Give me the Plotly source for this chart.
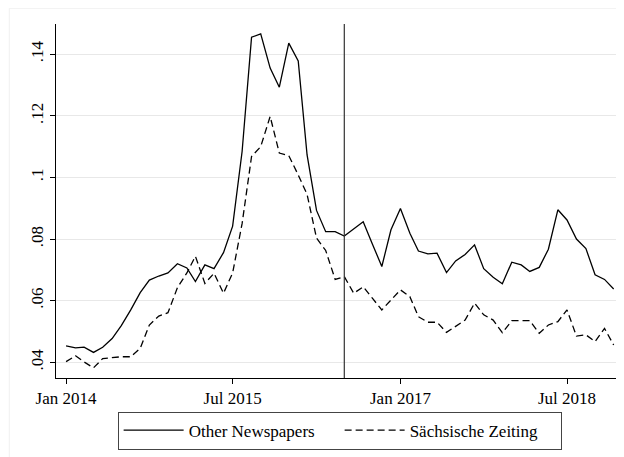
import plotly.graph_objects as go

months = [f"{y}-{m:02d}-01" for y in range(2014, 2019) for m in range(1, 13)]

other_newspapers = [
    0.0453, 0.0447, 0.0449, 0.0432, 0.0449, 0.0477, 0.0519, 0.0570, 0.0626, 0.0667,
    0.0680, 0.0690, 0.0720, 0.0706, 0.0662, 0.0716, 0.0704, 0.0756, 0.0842, 0.1084,
    0.1455, 0.1466, 0.1355, 0.1293, 0.1436, 0.1378, 0.1073, 0.0893, 0.0824, 0.0824,
    0.0810, 0.0832, 0.0856, 0.0784, 0.0711, 0.0830, 0.0899, 0.0819, 0.0761, 0.0752,
    0.0754, 0.0691, 0.0729, 0.0750, 0.0781, 0.0704, 0.0676, 0.0655, 0.0725, 0.0716,
    0.0695, 0.0708, 0.0767, 0.0895, 0.0862, 0.0800, 0.0769, 0.0684, 0.0669, 0.0638,
]

saechsische_zeitung = [
    0.0402, 0.0421, 0.0401, 0.0382, 0.0412, 0.0416, 0.0418, 0.0418, 0.0445, 0.0521,
    0.0550, 0.0561, 0.0642, 0.0690, 0.0744, 0.0656, 0.0689, 0.0624, 0.0690, 0.0850,
    0.1068, 0.1100, 0.1198, 0.1079, 0.1071, 0.1008, 0.0945, 0.0803, 0.0763, 0.0669,
    0.0678, 0.0624, 0.0645, 0.0608, 0.0570, 0.0602, 0.0635, 0.0613, 0.0548, 0.0530,
    0.0530, 0.0497, 0.0516, 0.0537, 0.0592, 0.0554, 0.0537, 0.0496, 0.0535, 0.0535,
    0.0535, 0.0494, 0.0521, 0.0532, 0.0570, 0.0485, 0.0489, 0.0467, 0.0510, 0.0456,
]

x_tick_vals = ["2014-01-01", "2015-07-01", "2017-01-01", "2018-07-01"]
x_tick_text = ["Jan 2014", "Jul 2015", "Jan 2017", "Jul 2018"]
y_tick_vals = [0.04, 0.06, 0.08, 0.10, 0.12, 0.14]
y_tick_text = [".04", ".06", ".08", ".1", ".12", ".14"]
event_date = "2016-07-01"

FONT = "Liberation Serif"
FS = 17

fig = go.Figure()
fig.add_trace(go.Scatter(
    x=months, y=other_newspapers, mode="lines", name="Other Newspapers",
    line=dict(color="black", width=1.3),
))
fig.add_trace(go.Scatter(
    x=months, y=saechsische_zeitung, mode="lines", name="Sächsische Zeiting",
    line=dict(color="black", width=1.3, dash="7px,4px"),
))

fig.add_shape(type="line", xref="x", yref="paper", x0=event_date, x1=event_date,
              y0=0, y1=1, line=dict(color="#333333", width=1.2))

# faint outer graph-region border (top and left)
fig.add_shape(type="line", xref="paper", yref="paper",
              x0=-0.0827, x1=1.2, y0=1.0444, y1=1.0444,
              line=dict(color="#f0f0f0", width=1))
fig.add_shape(type="line", xref="paper", yref="paper",
              x0=-0.0827, x1=-0.0827, y0=-0.3, y1=1.0444,
              line=dict(color="#f0f0f0", width=1))

fig.update_layout(
    width=616, height=449,
    margin=dict(l=48, r=3, t=16, b=79, autoexpand=False),
    paper_bgcolor="white", plot_bgcolor="white",
    font=dict(family=FONT, size=FS, color="black"),
    showlegend=True,
    legend=dict(
        orientation="h", x=0.502, xanchor="center", y=-0.095, yanchor="top",
        bordercolor="#444444", borderwidth=1, bgcolor="white",
        entrywidth=146, entrywidthmode="pixels",
        font=dict(family=FONT, size=FS, color="black"),
        tracegroupgap=0, itemwidth=60,
    ),
    xaxis=dict(
        type="date", range=["2013-11-29", "2018-12-25"],
        tickvals=x_tick_vals, ticktext=x_tick_text,
        showgrid=False, showline=True, linecolor="black", linewidth=1,
        ticks="outside", ticklen=5, tickcolor="black", zeroline=False,
        tickfont=dict(family=FONT, size=FS, color="black"), automargin=False,
    ),
    yaxis=dict(
        range=[0.0349, 0.1498],
        tickvals=y_tick_vals, ticktext=y_tick_text, tickangle=-90,
        showgrid=True, gridcolor="#e8e8e8", gridwidth=1,
        showline=True, linecolor="black", linewidth=1,
        ticks="outside", ticklen=5, tickcolor="black", zeroline=False,
        tickfont=dict(family=FONT, size=FS, color="black"), automargin=False,
    ),
)

fig.write_html("out.html")
